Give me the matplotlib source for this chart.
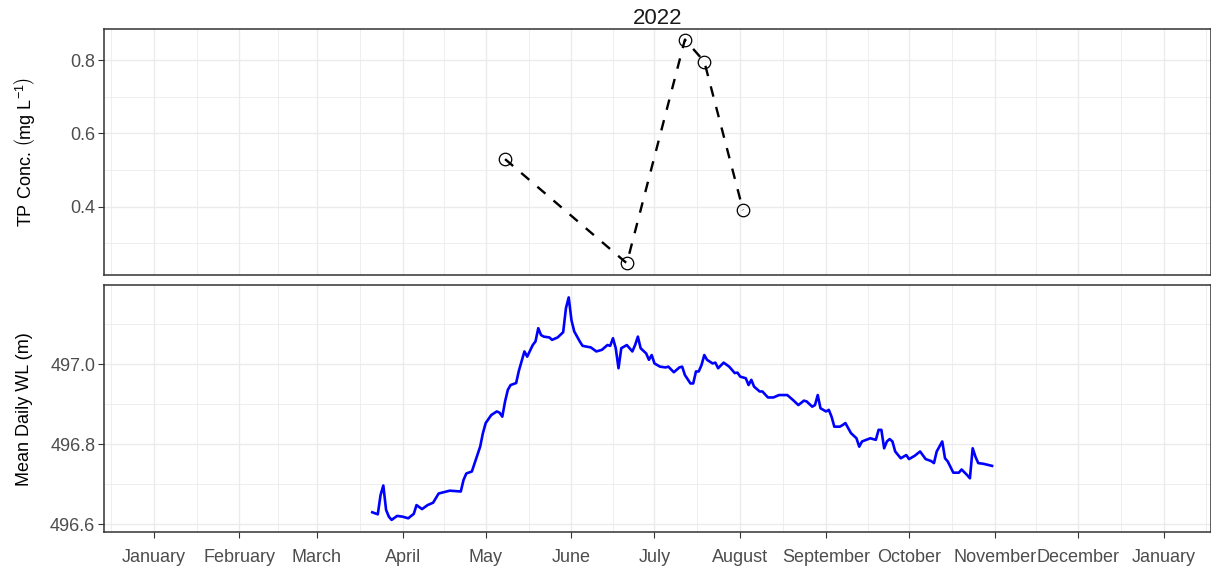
import matplotlib
matplotlib.use("Agg")
import matplotlib.pyplot as plt
import matplotlib.dates as mdates
import matplotlib.ticker as mticker
import pandas as pd
import numpy as np

plt.rcParams['font.family'] = ['Liberation Sans', 'DejaVu Sans']
plt.rcParams['mathtext.fontset'] = 'custom'
plt.rcParams['mathtext.rm'] = 'Liberation Sans'
plt.rcParams['mathtext.it'] = 'Liberation Sans:italic'

# ---- TP concentration samples ----
tp_dates = ["2022-05-08", "2022-06-21", "2022-07-12", "2022-07-19", "2022-08-02"]
tp_values = [0.530, 0.246, 0.856, 0.796, 0.391]

# ---- Mean daily water level ----
wl_dates = [
    "2022-03-21", "2022-03-23", "2022-03-24", "2022-03-25", "2022-03-26", "2022-03-27",
    "2022-03-28", "2022-03-30", "2022-04-01", "2022-04-03", "2022-04-05", "2022-04-06",
    "2022-04-08", "2022-04-10", "2022-04-12", "2022-04-14", "2022-04-18", "2022-04-22",
    "2022-04-23", "2022-04-24", "2022-04-26", "2022-04-28", "2022-04-29", "2022-04-30",
    "2022-05-01", "2022-05-03", "2022-05-05", "2022-05-06", "2022-05-07", "2022-05-08",
    "2022-05-09", "2022-05-10", "2022-05-12", "2022-05-13", "2022-05-15", "2022-05-16",
    "2022-05-18", "2022-05-19", "2022-05-20", "2022-05-21", "2022-05-22", "2022-05-24",
    "2022-05-25", "2022-05-27", "2022-05-29", "2022-05-30", "2022-05-31", "2022-06-01",
    "2022-06-02", "2022-06-04", "2022-06-05", "2022-06-08", "2022-06-10", "2022-06-12",
    "2022-06-14", "2022-06-15", "2022-06-16", "2022-06-17", "2022-06-18", "2022-06-19",
    "2022-06-21", "2022-06-23", "2022-06-24", "2022-06-25", "2022-06-26", "2022-06-28",
    "2022-06-29", "2022-06-30", "2022-07-01", "2022-07-03", "2022-07-05", "2022-07-06",
    "2022-07-08", "2022-07-10", "2022-07-11", "2022-07-12", "2022-07-14", "2022-07-15",
    "2022-07-16", "2022-07-17", "2022-07-18", "2022-07-19", "2022-07-20", "2022-07-22",
    "2022-07-23", "2022-07-24", "2022-07-26", "2022-07-28", "2022-07-30", "2022-07-31",
    "2022-08-01", "2022-08-03", "2022-08-04", "2022-08-05", "2022-08-06", "2022-08-08",
    "2022-08-09", "2022-08-11", "2022-08-13", "2022-08-15", "2022-08-18", "2022-08-20",
    "2022-08-22", "2022-08-24", "2022-08-25", "2022-08-27", "2022-08-28", "2022-08-29",
    "2022-08-30", "2022-09-01", "2022-09-02", "2022-09-03", "2022-09-04", "2022-09-06",
    "2022-09-07", "2022-09-08", "2022-09-10", "2022-09-12", "2022-09-13", "2022-09-14",
    "2022-09-17", "2022-09-19", "2022-09-20", "2022-09-21", "2022-09-22", "2022-09-23",
    "2022-09-24", "2022-09-25", "2022-09-26", "2022-09-28", "2022-09-30", "2022-10-01",
    "2022-10-03", "2022-10-05", "2022-10-07", "2022-10-09", "2022-10-10", "2022-10-11",
    "2022-10-13", "2022-10-14", "2022-10-15", "2022-10-17", "2022-10-19", "2022-10-20",
    "2022-10-22", "2022-10-23", "2022-10-24", "2022-10-25", "2022-10-26", "2022-10-28",
    "2022-10-31",
]
wl_values = [
    496.630, 496.625, 496.673, 496.697, 496.636, 496.619,
    496.611, 496.621, 496.619, 496.615, 496.626, 496.648,
    496.638, 496.648, 496.654, 496.677, 496.684, 496.682,
    496.711, 496.727, 496.732, 496.773, 496.794, 496.828,
    496.853, 496.873, 496.882, 496.879, 496.869, 496.907,
    496.936, 496.948, 496.953, 496.984, 497.032, 497.019,
    497.048, 497.057, 497.090, 497.073, 497.069, 497.067,
    497.061, 497.067, 497.080, 497.140, 497.167, 497.110,
    497.082, 497.057, 497.046, 497.042, 497.032, 497.036,
    497.048, 497.046, 497.065, 497.040, 496.990, 497.040,
    497.048, 497.032, 497.048, 497.069, 497.040, 497.027,
    497.011, 497.023, 497.002, 496.994, 496.992, 496.994,
    496.980, 496.992, 496.994, 496.973, 496.952, 496.952,
    496.982, 496.982, 496.998, 497.023, 497.011, 497.002,
    497.004, 496.990, 497.004, 496.994, 496.978, 496.979,
    496.969, 496.965, 496.948, 496.961, 496.944, 496.932,
    496.932, 496.917, 496.917, 496.923, 496.923, 496.911,
    496.898, 496.909, 496.907, 496.894, 496.898, 496.923,
    496.890, 496.882, 496.886, 496.869, 496.844, 496.844,
    496.848, 496.853, 496.828, 496.815, 496.794, 496.807,
    496.815, 496.811, 496.836, 496.836, 496.790, 496.807,
    496.813, 496.807, 496.782, 496.765, 496.773, 496.763,
    496.771, 496.782, 496.763, 496.758, 496.753, 496.782,
    496.807, 496.765, 496.757, 496.729, 496.729, 496.737,
    496.723, 496.715, 496.790, 496.769, 496.753, 496.751,
    496.746,
]

month_ticks = pd.date_range("2022-01-01", "2023-01-01", freq="MS")
month_labels = [d.strftime("%B") for d in month_ticks]

tp_x = pd.to_datetime(tp_dates)
wl_x = pd.to_datetime(wl_dates)

fig = plt.figure(figsize=(12.11, 5.69), dpi=100)
ax1 = fig.add_axes([0.0856, 0.5167, 0.9141, 0.4318])
ax2 = fig.add_axes([0.0856, 0.0645, 0.9141, 0.4346])

x0 = mdates.date2num(pd.Timestamp("2022-01-01")) - 18.07
x1 = mdates.date2num(pd.Timestamp("2022-01-01")) + 382.0

# minor breaks midway between month starts (ggplot style)
all_months = pd.date_range("2021-12-01", "2023-02-01", freq="MS")
mnum = mdates.date2num(all_months)
minor_x = (mnum[:-1] + mnum[1:]) / 2.0

grid_col = "#EBEBEB"
spine_col = "#333333"
tick_col = "#4D4D4D"
fs = 13

for ax in (ax1, ax2):
    ax.set_xlim(x0, x1)
    ax.set_xticks(mdates.date2num(month_ticks))
    ax.xaxis.set_minor_locator(mticker.FixedLocator(minor_x))
    ax.grid(True, which="major", color=grid_col, lw=1.0, zorder=0)
    ax.grid(True, which="minor", color=grid_col, lw=0.6, zorder=0)
    ax.set_axisbelow(True)
    for s in ax.spines.values():
        s.set_color(spine_col)
        s.set_linewidth(1.1)
    ax.tick_params(which="major", length=4, width=0.8, color=spine_col,
                   labelsize=fs, labelcolor=tick_col, pad=2)
    ax.tick_params(which="minor", length=0)

# top panel
ax1.plot(tp_x, tp_values, color="black", lw=1.7, linestyle=(0, (4.5, 4.5)), zorder=2)
ax1.plot(tp_x, tp_values, linestyle="none", marker="o", markersize=9,
         markerfacecolor="none", markeredgecolor="black", markeredgewidth=0.9, zorder=3)
ax1.set_ylim(0.214, 0.884)
ax1.set_yticks([0.4, 0.6, 0.8])
ax1.yaxis.set_minor_locator(mticker.FixedLocator([0.3, 0.5, 0.7]))
ax1.yaxis.set_major_formatter(mticker.FormatStrFormatter("%.1f"))
ax1.tick_params(axis="x", which="both", length=0, labelbottom=False)
ax1.set_xlim(x0, x1)
ax1.set_ylabel(r"TP Conc. $\left(\mathrm{mg\ L^{-1}}\right)$", fontsize=fs, color="black")
ax1.yaxis.set_label_coords(-0.0603, 0.5)
ax1.set_title("2022", fontsize=16, color="#1A1A1A", pad=3)

# bottom panel
ax2.plot(wl_x, wl_values, color="#0000FF", lw=1.9, zorder=2)
ax2.set_ylim(496.58, 497.198)
ax2.set_yticks([496.6, 496.8, 497.0])
ax2.yaxis.set_minor_locator(mticker.FixedLocator([496.7, 496.9, 497.1]))
ax2.yaxis.set_major_formatter(mticker.FormatStrFormatter("%.1f"))
ax2.set_xlim(x0, x1)
ax2.set_xticklabels(month_labels)
ax2.tick_params(axis="x", pad=8)
ax2.set_ylabel("Mean Daily WL (m)", fontsize=fs, color="black")
ax2.yaxis.set_label_coords(-0.0639, 0.5)

fig.savefig("out.png", dpi=100)
